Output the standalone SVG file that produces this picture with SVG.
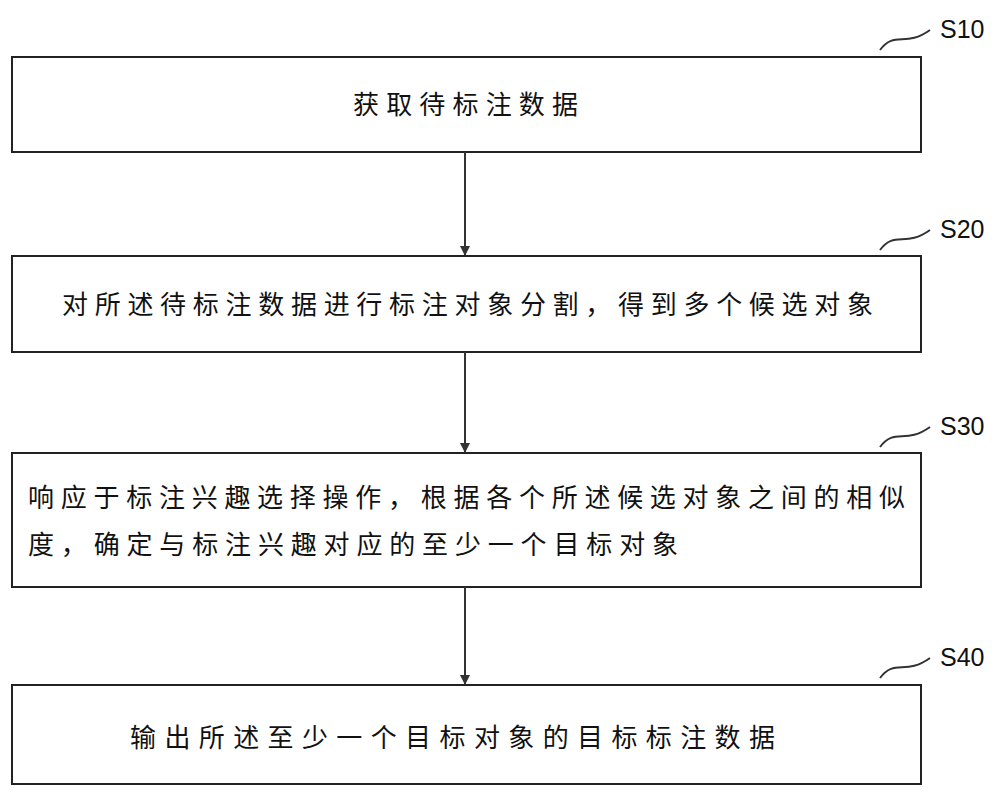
<svg xmlns="http://www.w3.org/2000/svg" width="1000" height="803" viewBox="0 0 1000 803">
<style>
.box{fill:#fff;stroke:#222;stroke-width:2}
.t{font-family:"Noto Sans CJK SC","Liberation Sans",sans-serif;font-size:26px;fill:#111}
.l{font-family:"Liberation Sans",sans-serif;font-size:25px;fill:#111}
.c{fill:none;stroke:#333;stroke-width:2}
</style>
<defs><marker id="a" markerWidth="10" markerHeight="10" refX="9" refY="5" orient="auto" markerUnits="userSpaceOnUse" viewBox="0 0 10 10"><path d="M0,0L10,5L0,10z" fill="#333"/></marker></defs>
<rect width="1000" height="803" fill="#fff"/>
<g id="s10"><rect class="box" x="12" y="57" width="909" height="95"/><text class="t" x="353" y="114" textLength="225" lengthAdjust="spacing">获取待标注数据</text><path class="c" d="M880,50 C895,30 905,48 930,30"/><text class="l" x="940" y="38">S10</text></g>
<g id="s20"><rect class="box" x="12" y="256" width="909" height="96"/><text class="t" x="62" y="314" textLength="811" lengthAdjust="spacing">对所述待标注数据进行标注对象分割，得到多个候选对象</text><path class="c" d="M880,250 C895,230 905,248 930,230"/><text class="l" x="940" y="238">S20</text></g>
<g id="s30"><rect class="box" x="12" y="453" width="909" height="134"/><text class="t" x="28" y="507" textLength="877" lengthAdjust="spacing">响应于标注兴趣选择操作，根据各个所述候选对象之间的相似</text><text class="t" x="28" y="554" textLength="650" lengthAdjust="spacing">度，确定与标注兴趣对应的至少一个目标对象</text><path class="c" d="M880,447 C895,427 905,445 930,427"/><text class="l" x="940" y="435">S30</text></g>
<g id="s40"><rect class="box" x="12" y="685" width="909" height="99"/><text class="t" x="130" y="747" textLength="645" lengthAdjust="spacing">输出所述至少一个目标对象的目标标注数据</text><path class="c" d="M880,678 C895,658 905,676 930,658"/><text class="l" x="940" y="666">S40</text></g>
<g id="connectors"><line class="c" x1="465" y1="152" x2="465" y2="255" marker-end="url(#a)"/><line class="c" x1="465" y1="352" x2="465" y2="452" marker-end="url(#a)"/><line class="c" x1="465" y1="587" x2="465" y2="684" marker-end="url(#a)"/></g>
</svg>
